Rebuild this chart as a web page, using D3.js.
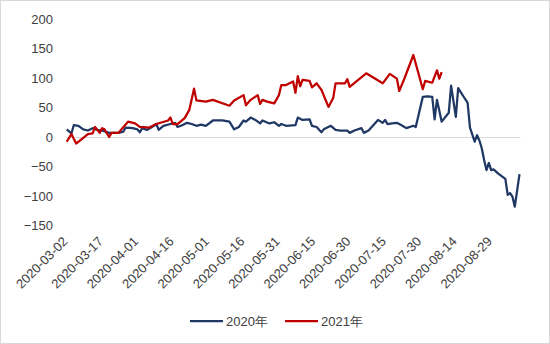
<!DOCTYPE html>
<html>
<head>
<meta charset="utf-8">
<script src="https://cdn.jsdelivr.net/npm/d3@7/dist/d3.min.js"></script>
<style>
  html, body { margin: 0; padding: 0; background: #fff; }
  svg { display: block; font-family: "Liberation Sans", Arial, sans-serif; }
</style>
</head>
<body>
<svg id="chart" width="550" height="344"></svg>
<script>
// Series 2020年: [date, value]
const dates2020 = ["2020-03-02","2020-03-04","2020-03-05","2020-03-07","2020-03-09","2020-03-11","2020-03-13","2020-03-15","2020-03-17","2020-03-20",
  "2020-03-24","2020-03-26","2020-03-27","2020-03-30","2020-04-01","2020-04-02","2020-04-03","2020-04-05","2020-04-08","2020-04-09",
  "2020-04-10","2020-04-12","2020-04-15","2020-04-17","2020-04-18","2020-04-20","2020-04-22","2020-04-24","2020-04-26","2020-04-28",
  "2020-04-30","2020-05-03","2020-05-07","2020-05-10","2020-05-12","2020-05-14","2020-05-16","2020-05-17","2020-05-19","2020-05-21",
  "2020-05-23","2020-05-24","2020-05-27","2020-05-29","2020-05-31","2020-06-01","2020-06-03","2020-06-07","2020-06-08","2020-06-10",
  "2020-06-13","2020-06-14","2020-06-16","2020-06-18","2020-06-19","2020-06-22","2020-06-24","2020-06-26","2020-06-29","2020-06-30",
  "2020-07-02","2020-07-05","2020-07-06","2020-07-08","2020-07-10","2020-07-12","2020-07-14","2020-07-15","2020-07-16","2020-07-18",
  "2020-07-20","2020-07-22","2020-07-24","2020-07-27","2020-07-28","2020-07-29","2020-07-31","2020-08-02","2020-08-04","2020-08-05",
  "2020-08-06","2020-08-08","2020-08-11","2020-08-12","2020-08-14","2020-08-15","2020-08-18","2020-08-19","2020-08-20","2020-08-22",
  "2020-08-23","2020-08-24","2020-08-25","2020-08-26","2020-08-27","2020-08-28","2020-08-29","2020-08-30","2020-09-01","2020-09-04",
  "2020-09-05","2020-09-06","2020-09-07","2020-09-08","2020-09-10"];
const values2020 = [13,6,20,19,13,11,15,12,11,7,
  7,9,16,15,13,8,15,12,19,22,
  12,19,22,24,17,20,24,22,19,21,
  19,28,28,26,13,17,28,26,33,29,
  23,28,23,25,19,22,19,20,33,29,
  30,19,17,8,13,19,12,11,11,7,
  11,15,7,11,20,29,24,29,22,23,
  24,20,15,19,17,34,68,69,68,30,
  63,26,41,87,34,83,64,58,16,-8,
  3,-6,-19,-39,-56,-44,-56,-55,-62,-71,
  -98,-95,-101,-118,-63];

// Series 2021年 plotted on the same calendar positions
const dates2021 = ["2020-03-02","2020-03-04","2020-03-06","2020-03-08","2020-03-11","2020-03-13","2020-03-14","2020-03-16","2020-03-17","2020-03-18",
  "2020-03-20","2020-03-21","2020-03-24","2020-03-25","2020-03-28","2020-03-31","2020-04-02","2020-04-06","2020-04-09","2020-04-14",
  "2020-04-15","2020-04-16","2020-04-18","2020-04-21","2020-04-23","2020-04-25","2020-04-26","2020-04-30","2020-05-03","2020-05-10",
  "2020-05-12","2020-05-16","2020-05-17","2020-05-19","2020-05-22","2020-05-23","2020-05-24","2020-05-26","2020-05-29","2020-05-31",
  "2020-06-01","2020-06-03","2020-06-06","2020-06-07","2020-06-08","2020-06-09","2020-06-10","2020-06-13","2020-06-14","2020-06-16",
  "2020-06-18","2020-06-21","2020-06-23","2020-06-24","2020-06-28","2020-06-29","2020-06-30","2020-07-07","2020-07-14","2020-07-17",
  "2020-07-20","2020-07-21","2020-07-23","2020-07-27","2020-07-31","2020-08-01","2020-08-04","2020-08-06","2020-08-07","2020-08-08"];
const values2021 = [-8,5,-11,-5,5,6,17,7,15,13,
  0,7,7,12,26,23,17,16,22,28,
  33,22,22,32,46,82,62,60,63,53,
  62,71,54,63,71,56,63,60,57,71,
  88,88,94,75,103,86,97,95,84,91,
  80,51,66,91,91,98,85,108,91,107,
  99,78,97,139,81,95,92,113,99,110];

const yTicks = [-150,-100,-50,0,50,100,150,200];
const xTickLabels = ["2020-03-02","2020-03-17","2020-04-01","2020-04-16","2020-05-01","2020-05-16","2020-05-31",
  "2020-06-15","2020-06-30","2020-07-15","2020-07-30","2020-08-14","2020-08-29"];
const seriesNames = ["2020年","2021年"];
const seriesColors = ["#1F3864","#C00000"];

const parse = d3.utcParse("%Y-%m-%d");
const svg = d3.select("#chart");

// chart-area border
svg.append("rect").attr("x",0.5).attr("y",0.5).attr("width",549).attr("height",343)
  .attr("fill","#fff").attr("stroke","#d9d9d9");

const x = d3.scaleUtc()
  .domain([parse("2020-03-02"), parse("2020-09-10")])
  .range([66.7, 519.5]);
const y = d3.scaleLinear().domain([-150, 200]).range([225.5, 19]);

// y axis labels (no axis line)
const yAxis = d3.axisLeft(y).tickValues(yTicks).tickSize(0).tickPadding(0);
const gy = svg.append("g").attr("transform","translate(53,0)").call(yAxis);
gy.select(".domain").remove();
gy.selectAll("text").attr("font-size",13).attr("fill","#404040")
  .attr("font-family","'Liberation Sans', Arial, sans-serif");

// zero line
svg.append("line")
  .attr("x1", x.range()[0]).attr("x2", x.range()[1] + 1)
  .attr("y1", Math.round(y(0)) + 0.5).attr("y2", Math.round(y(0)) + 0.5)
  .attr("stroke","#d9d9d9").attr("stroke-width",1);

// x axis labels, rotated
const xAxis = d3.axisBottom(x).tickValues(xTickLabels.map(parse))
  .tickFormat(d3.utcFormat("%Y-%m-%d")).tickSize(0).tickPadding(0);
const gx = svg.append("g").attr("transform","translate(0,238)").call(xAxis);
gx.select(".domain").remove();
gx.selectAll("text")
  .attr("font-size",13).attr("fill","#404040")
  .attr("font-family","'Liberation Sans', Arial, sans-serif")
  .attr("text-anchor","end")
  .attr("dy","0.35em")
  .attr("transform","translate(-2,1) rotate(-45)");

// lines
const line = d3.line().x(d => x(d[0])).y(d => y(d[1]));
const data = [
  dates2020.map((d,i) => [parse(d), values2020[i]]),
  dates2021.map((d,i) => [parse(d), values2021[i]])
];
data.forEach((s,i) => {
  svg.append("path").datum(s).attr("d", line)
    .attr("fill","none").attr("stroke", seriesColors[i])
    .attr("stroke-width",2.25).attr("stroke-linejoin","round");
});

// legend
const legendX = [190, 285];
seriesNames.forEach((n,i) => {
  const g = svg.append("g").attr("transform",`translate(${legendX[i]},321)`);
  g.append("line").attr("x1",0).attr("x2",33).attr("y1",0).attr("y2",0)
    .attr("stroke",seriesColors[i]).attr("stroke-width",2.25);
  g.append("text").attr("x",36).attr("y",0).attr("dy","0.35em")
    .attr("font-size",13).attr("fill","#404040").text(n);
});
</script>
</body>
</html>
